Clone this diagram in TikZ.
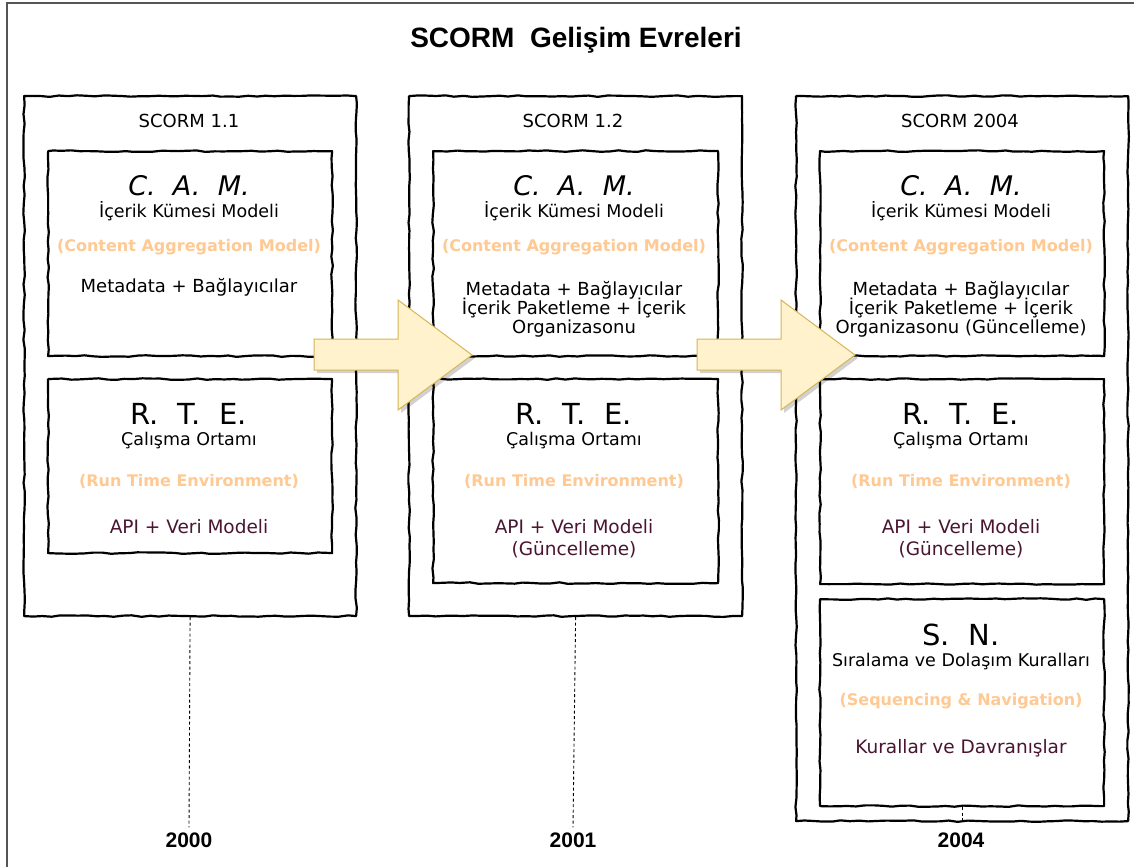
\documentclass[tikz,border=0pt]{standalone}
\usepackage{fontspec}
\setmainfont{DejaVu Sans}
\newfontfamily\headfont{Liberation Sans}
\usetikzlibrary{decorations.pathmorphing,positioning}

\definecolor{peach}{HTML}{FFC993}
\definecolor{plum}{HTML}{4A1530}
\definecolor{arrowfill}{HTML}{FFF2CC}
\definecolor{arrowline}{HTML}{D6B656}
\definecolor{framegray}{HTML}{555555}

\newcommand{\gap}{\ \hspace{0.32em}}

\tikzset{
  sketch/.style={draw=black, line width=2.2pt, inner sep=0pt, anchor=north west,
    line join=round,
    decorate, decoration={random steps, segment length=9pt, amplitude=0.8pt}},
  verlabel/.style={font=\fontsize{18}{20}\selectfont},
  acronym/.style={font=\fontsize{29}{31}\selectfont},
  acronymit/.style={font=\itshape\fontsize{27}{30}\selectfont},
  subtitle/.style={font=\fontsize{17.5}{19}\selectfont},
  english/.style={font=\bfseries\fontsize{16}{18}\selectfont, text=peach},
  bodytext/.style={font=\fontsize{18}{19}\selectfont},
  plumtext/.style={font=\fontsize{18.5}{20}\selectfont, text=plum},
  yearlabel/.style={font=\headfont\bfseries\fontsize{21}{23}\selectfont, inner sep=2pt},
  bigarrow/.style={fill=arrowfill, draw=arrowline, line width=1pt, line join=miter},
  arrowshadow/.style={fill=black, opacity=0.18},
  timeline/.style={line width=0.9pt, dash pattern=on 3pt off 2.5pt},
}

\begin{document}
\begin{tikzpicture}[x=1pt, y=-1pt]
\pgfmathsetseed{42}
\useasboundingbox (0,0) rectangle (1134,867);
\fill[white] (0,0) rectangle (1134,867);

% outer frame (left and top edges)
\draw[framegray, line width=1.5pt] (7,867) -- (7,3) -- (1134,3);

% title
\node[font=\headfont\bfseries\fontsize{28}{30}\selectfont] (title) at (576,40) {SCORM\ \ Gelişim Evreleri};

% version columns
\node[sketch, minimum width=332pt, minimum height=520pt] (col1) at (23,95) {};
\node[sketch, minimum width=333pt, minimum height=520pt] (col2) at (408,95) {};
\node[sketch, minimum width=332pt, minimum height=725pt] (col3) at (795,95) {};

\node[verlabel] (v1) at (189,121) {SCORM 1.1};
\node[verlabel] (v2) at (573,121) {SCORM 1.2};
\node[verlabel] (v3) at (960,121) {SCORM 2004};

% inner module boxes
\node[sketch, minimum width=284pt, minimum height=205pt] (cam1) at (47,150) {};
\node[sketch, minimum width=284pt, minimum height=174pt] (rte1) at (47,378) {};
\node[sketch, minimum width=285pt, minimum height=205pt] (cam2) at (432,150) {};
\node[sketch, minimum width=285pt, minimum height=204pt] (rte2) at (432,378) {};
\node[sketch, minimum width=284pt, minimum height=205pt] (cam3) at (819,150) {};
\node[sketch, minimum width=284pt, minimum height=205pt] (rte3) at (819,378) {};
\node[sketch, minimum width=284pt, minimum height=207pt] (sn3) at (819,598) {};

% C.A.M. texts
\foreach \c/\x in {1/189, 2/574, 3/961} {
  \node[acronymit] (camt\c) at (\x,186) {C.\gap A.\gap M.};
  \node[subtitle] (cams\c) at (\x,211) {İçerik Kümesi Modeli};
  \node[english] (came\c) at (\x,247) {(Content Aggregation Model)};
}
\node[bodytext] (camb1) at (189,287) {Metadata + Bağlayıcılar};
\node[bodytext] (camb2a) at (574,290) {Metadata + Bağlayıcılar};
\node[bodytext] (camb2b) at (574,308) {İçerik Paketleme + İçerik};
\node[bodytext] (camb2c) at (574,329) {Organizasonu};
\node[bodytext] (camb3a) at (961,290) {Metadata + Bağlayıcılar};
\node[bodytext] (camb3b) at (961,308) {İçerik Paketleme + İçerik};
\node[bodytext] (camb3c) at (961,329) {Organizasonu (Güncelleme)};

% R.T.E. texts
\foreach \c/\x in {1/189, 2/574, 3/961} {
  \node[acronym] (rtet\c) at (\x,414) {R.\gap T.\gap E.};
  \node[subtitle] (rtes\c) at (\x,441) {Çalışma Ortamı};
  \node[english] (rtee\c) at (\x,481) {(Run Time Environment)};
  \node[plumtext] (rteb\c) at (\x,527) {API + Veri Modeli};
}
\node[plumtext] (rteg2) at (574,550) {(Güncelleme)};
\node[plumtext] (rteg3) at (961,550) {(Güncelleme)};

% S.N. texts
\node[acronym] (snt) at (961,635) {S.\gap N.};
\node[subtitle] (sns) at (961,662) {Sıralama ve Dolaşım Kuralları};
\node[english] (sne) at (961,701) {(Sequencing \& Navigation)};
\node[plumtext] (snb) at (961,748) {Kurallar ve Davranışlar};

% years and timeline ticks
\node[yearlabel] (y1) at (189,840) {2000};
\node[yearlabel] (y2) at (573,840) {2001};
\node[yearlabel] (y3) at (961,840) {2004};
\draw[timeline] (col1.south) -- ([yshift=3pt]y1.north);
\draw[timeline] (col2.south) -- ([yshift=3pt]y2.north);
\draw[timeline] (sn3.south) -- (col3.south);

% transition arrows
\foreach \a/\x in {1/314, 2/697} {
  \fill[arrowshadow] (\x+3,342) -- (\x+87,342) -- (\x+87,303) -- (\x+161,358)
    -- (\x+87,413) -- (\x+87,373) -- (\x+3,373) -- cycle;
  \draw[bigarrow] (\x,339) -- (\x+84,339) -- (\x+84,300) -- (\x+158,355)
    -- (\x+84,410) -- (\x+84,370) -- (\x,370) -- cycle;
}
\end{tikzpicture}
\end{document}
